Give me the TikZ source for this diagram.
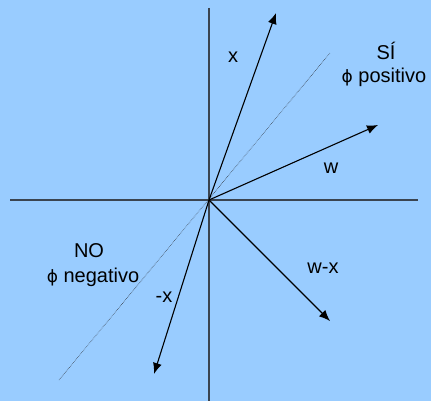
\documentclass[tikz,border=0pt]{standalone}
\usepackage{fontspec}
\setmainfont{Liberation Sans}
\newfontfamily\simb{DejaVu Sans}
\usetikzlibrary{arrows.meta}
\definecolor{fondo}{HTML}{99CCFF}
\definecolor{eje}{HTML}{3A4450}
\tikzset{
  vec/.style={line width=1.1pt,-{Latex[length=11pt,width=9pt]}},
  lbl/.style={font=\fontsize{20}{23}\selectfont,inner sep=0pt}
}
\begin{document}
\begin{tikzpicture}[x=1pt,y=-1pt]
\fill[fondo] (0,0) rectangle (431,401);
\useasboundingbox (0,0) rectangle (431,401);
\coordinate (O) at (209,200);
\coordinate (L) at (10,200);
\coordinate (R) at (418,200);
\coordinate (T) at (209,8);
\coordinate (B) at (209,401);
\coordinate (X) at (276,13);
\coordinate (W) at (378,125);
\coordinate (WX) at (330,321);
\coordinate (NX) at (154,374);
\coordinate (D1) at (59,380);
\coordinate (D2) at (330,53);
\draw[eje,line width=1.2pt] (L) -- (R);
\draw[eje,line width=1.2pt] (T) -- (B);
\draw[eje,line width=0.6pt,densely dotted] (D1) -- (D2);
\draw[vec] (O) -- (X);
\draw[vec] (O) -- (W);
\draw[vec] (O) -- (WX);
\draw[vec] (O) -- (NX);
\node[lbl] (lx) at (233,57) {x};
\node[lbl] (lw) at (331,168) {w};
\node[lbl] (lwx) at (323,268) {w-x};
\node[lbl] (lnx) at (164,297) {-x};
\node[lbl] (si) at (386,51) {SÍ};
\node[lbl] (pos) at (384,77) {{\simb\fontsize{17}{20}\selectfont ϕ} positivo};
\node[lbl] (no) at (89,251) {NO};
\node[lbl] (neg) at (93,277) {{\simb\fontsize{17}{20}\selectfont ϕ} negativo};
\end{tikzpicture}
\end{document}
